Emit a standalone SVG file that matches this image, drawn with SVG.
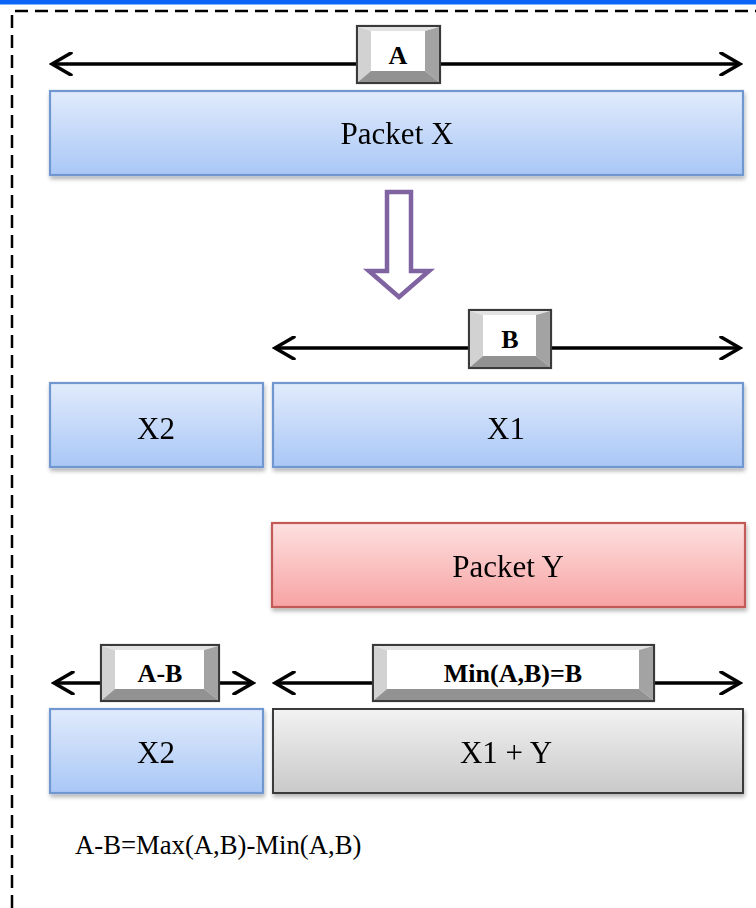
<svg xmlns="http://www.w3.org/2000/svg" width="756" height="908" viewBox="0 0 756 908">
  <style>
    .big { font-family: "Liberation Serif", "Times New Roman", serif; font-size: 31px; fill: #000; text-anchor: middle; }
    .tag { font-family: "Liberation Serif", "Times New Roman", serif; font-size: 26px; font-weight: bold; fill: #000; text-anchor: middle; }
    .note { font-family: "Liberation Serif", "Times New Roman", serif; font-size: 26.7px; fill: #000; }
    .dim { stroke: #000; stroke-width: 3.5; fill: none; }
    .blue { fill: url(#gBlue); stroke: #7097cf; stroke-width: 2.2; }
    .red { fill: url(#gRed); stroke: #c25a58; stroke-width: 2.2; }
    .grey { fill: url(#gGrey); stroke: #3a3a3a; stroke-width: 2; }
    .bevelOuter { fill: #fff; stroke: #3a3a3a; stroke-width: 2.2; }
  </style>
  <defs>
    <linearGradient id="gBlue" x1="0" y1="0" x2="0" y2="1">
      <stop offset="0" stop-color="#e1ebfc"/>
      <stop offset="1" stop-color="#a9c7f6"/>
    </linearGradient>
    <linearGradient id="gRed" x1="0" y1="0" x2="0" y2="1">
      <stop offset="0" stop-color="#fde0e0"/>
      <stop offset="1" stop-color="#f7a3a3"/>
    </linearGradient>
    <linearGradient id="gGrey" x1="0" y1="0" x2="0" y2="1">
      <stop offset="0" stop-color="#f2f2f2"/>
      <stop offset="1" stop-color="#c9c9c9"/>
    </linearGradient>
    <filter id="shadow" x="-5%" y="-20%" width="110%" height="150%">
      <feGaussianBlur in="SourceAlpha" stdDeviation="2"/>
      <feOffset dx="1" dy="3" result="b"/>
      <feComponentTransfer><feFuncA type="linear" slope="0.3"/></feComponentTransfer>
      <feMerge><feMergeNode/><feMergeNode in="SourceGraphic"/></feMerge>
    </filter>
    <marker id="chev" viewBox="0 0 24 24" refX="21" refY="12" markerWidth="24" markerHeight="24" markerUnits="userSpaceOnUse" orient="auto-start-reverse">
      <path d="M2 1 L21 12 L2 23" fill="none" stroke="#000" stroke-width="3.5" stroke-linecap="round" stroke-linejoin="miter"/>
    </marker>
  </defs>

  <!-- page frame -->
  <rect x="0" y="0" width="756" height="4.5" fill="#0a64f5"/>
  <path d="M12 908 V11 H760" fill="none" stroke="#000" stroke-width="2.5" stroke-dasharray="13 7"/>

  <!-- connectors: dimension lines and the split arrow -->
  <g id="connectors">
    <line class="dim" x1="52" y1="64" x2="740" y2="64" marker-start="url(#chev)" marker-end="url(#chev)"/>
    <line class="dim" x1="275" y1="348" x2="740" y2="348" marker-start="url(#chev)" marker-end="url(#chev)"/>
    <line class="dim" x1="54" y1="683" x2="253" y2="683" marker-start="url(#chev)" marker-end="url(#chev)"/>
    <line class="dim" x1="275" y1="683" x2="740" y2="683" marker-start="url(#chev)" marker-end="url(#chev)"/>
    <polygon points="387,192 411,192 411,271 429,271 399,297 369,271 387,271" fill="#fff" stroke="#8064a2" stroke-width="4.5" stroke-linejoin="miter"/>
  </g>

  <!-- length tags -->
  <g id="tag-A">
    <rect class="bevelOuter" x="357" y="26" width="83" height="57"/>
    <polygon points="358,27 439,27 425,31 371,31" fill="#e2e2e2"/>
    <polygon points="358,27 371,31 371,71 358,82" fill="#d2d2d2"/>
    <polygon points="439,27 439,82 425,71 425,31" fill="#a3a3a3"/>
    <polygon points="358,82 371,71 425,71 439,82" fill="#929292"/>
    <text class="tag" x="398" y="64">A</text>
  </g>
  <g id="tag-B">
    <rect class="bevelOuter" x="469" y="310" width="82" height="58"/>
    <polygon points="470,311 550,311 536,315 483,315" fill="#e2e2e2"/>
    <polygon points="470,311 483,315 483,356 470,367" fill="#d2d2d2"/>
    <polygon points="550,311 550,367 536,356 536,315" fill="#a3a3a3"/>
    <polygon points="470,367 483,356 536,356 550,367" fill="#929292"/>
    <text class="tag" x="510" y="348">B</text>
  </g>
  <g id="tag-AB">
    <rect class="bevelOuter" x="101" y="645" width="118" height="56"/>
    <polygon points="102,646 218,646 204,650 115,650" fill="#e2e2e2"/>
    <polygon points="102,646 115,650 115,689 102,700" fill="#d2d2d2"/>
    <polygon points="218,646 218,700 204,689 204,650" fill="#a3a3a3"/>
    <polygon points="102,700 115,689 204,689 218,700" fill="#929292"/>
    <text class="tag" x="160" y="682">A-B</text>
  </g>
  <g id="tag-min">
    <rect class="bevelOuter" x="373" y="645" width="281" height="56"/>
    <polygon points="374,646 653,646 639,650 387,650" fill="#e2e2e2"/>
    <polygon points="374,646 387,650 387,689 374,700" fill="#d2d2d2"/>
    <polygon points="653,646 653,700 639,689 639,650" fill="#a3a3a3"/>
    <polygon points="374,700 387,689 639,689 653,700" fill="#929292"/>
    <text class="tag" x="513" y="682">Min(A,B)=B</text>
  </g>

  <!-- packets -->
  <g id="packet-x" filter="url(#shadow)">
    <rect class="blue" x="50" y="91" width="693" height="84"/>
    <text class="big" x="397" y="144">Packet X</text>
  </g>
  <g id="x2-top" filter="url(#shadow)">
    <rect class="blue" x="50" y="383" width="213" height="84"/>
    <text class="big" x="156" y="439">X2</text>
  </g>
  <g id="x1-top" filter="url(#shadow)">
    <rect class="blue" x="273" y="383" width="470" height="84"/>
    <text class="big" x="506" y="439">X1</text>
  </g>
  <g id="packet-y" filter="url(#shadow)">
    <rect class="red" x="272" y="523" width="473" height="84"/>
    <text class="big" x="508" y="577">Packet Y</text>
  </g>
  <g id="x2-bottom" filter="url(#shadow)">
    <rect class="blue" x="50" y="709" width="213" height="84"/>
    <text class="big" x="156" y="763">X2</text>
  </g>
  <g id="x1y-bottom" filter="url(#shadow)">
    <rect class="grey" x="273" y="709" width="470" height="84"/>
    <text class="big" x="506" y="763">X1 + Y</text>
  </g>

  <g id="formula">
    <text class="note" x="75" y="854">A-B=Max(A,B)-Min(A,B)</text>
  </g>
</svg>
